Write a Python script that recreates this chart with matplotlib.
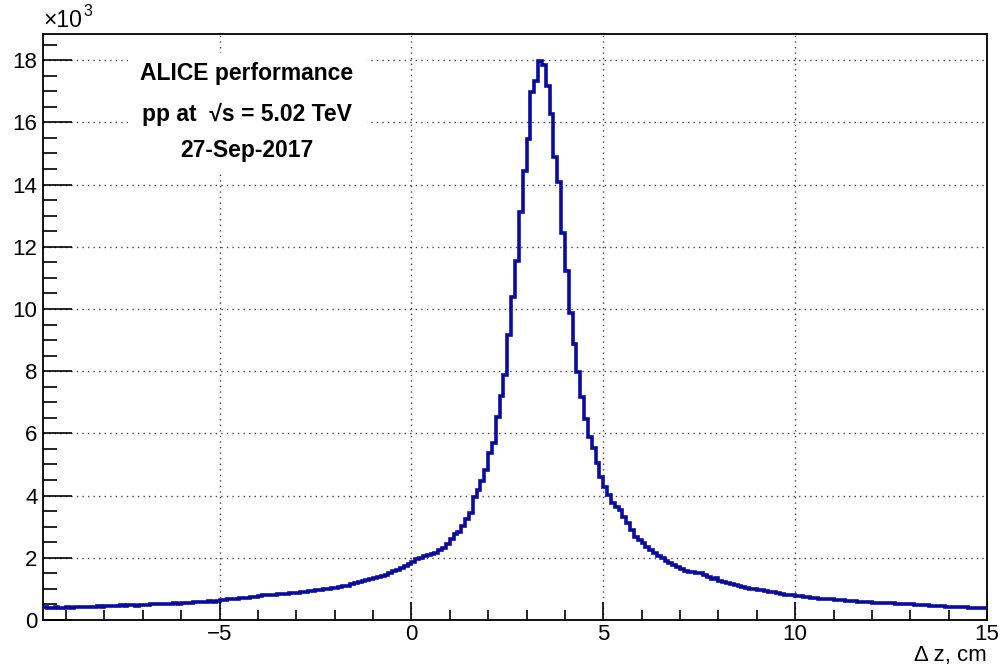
import numpy as np
import matplotlib
matplotlib.use("Agg")
import matplotlib.pyplot as plt
from matplotlib.patches import Rectangle

# Histogram: bins of 0.1 cm from -9.6 to 15.0, counts in units of 10^3
x_min, x_max, bin_w = -9.6, 15.0, 0.1
counts_k = [
    # -9.6 .. -9.0
    0.41, 0.40, 0.39, 0.41, 0.40, 0.40,
    # -9 .. -8
    0.41, 0.40, 0.42, 0.41, 0.43, 0.42, 0.41, 0.43, 0.44, 0.43,
    # -8 .. -7
    0.44, 0.45, 0.44, 0.46, 0.47, 0.46, 0.48, 0.47, 0.46, 0.48,
    # -7 .. -6
    0.49, 0.48, 0.50, 0.51, 0.50, 0.52, 0.53, 0.52, 0.54, 0.53,
    # -6 .. -5
    0.55, 0.56, 0.55, 0.57, 0.58, 0.57, 0.59, 0.60, 0.59, 0.61,
    # -5 .. -4
    0.64, 0.65, 0.67, 0.66, 0.69, 0.70, 0.71, 0.72, 0.74, 0.75,
    # -4 .. -3
    0.77, 0.79, 0.80, 0.81, 0.82, 0.83, 0.84, 0.85, 0.86, 0.87,
    # -3 .. -2
    0.88, 0.89, 0.91, 0.92, 0.94, 0.96, 0.98, 0.99, 1.01, 1.02,
    # -2 .. -1
    1.04, 1.06, 1.09, 1.11, 1.15, 1.18, 1.21, 1.25, 1.28, 1.32,
    # -1 .. 0
    1.35, 1.38, 1.42, 1.46, 1.51, 1.57, 1.62, 1.68, 1.74, 1.81,
    # 0 .. 1
    1.88, 1.95, 2.00, 2.05, 2.08, 2.12, 2.17, 2.25, 2.32, 2.46,
    # 1 .. 2
    2.59, 2.75, 2.84, 3.02, 3.24, 3.43, 3.94, 4.18, 4.47, 4.82,
    # 2 .. 3
    5.36, 5.68, 6.54, 7.21, 7.88, 9.16, 10.37, 11.55, 13.13, 14.43,
    # 3 .. 4
    15.48, 16.98, 17.34, 17.97, 17.84, 17.17, 16.27, 14.89, 14.07, 12.43,
    # 4 .. 5
    11.23, 9.88, 8.87, 7.96, 7.18, 6.46, 5.90, 5.52, 5.04, 4.61,
    # 5 .. 6
    4.28, 4.02, 3.75, 3.62, 3.54, 3.32, 3.13, 2.89, 2.68, 2.57,
    # 6 .. 7
    2.48, 2.36, 2.25, 2.14, 2.06, 1.98, 1.91, 1.83, 1.77, 1.70,
    # 7 .. 8
    1.64, 1.59, 1.56, 1.53, 1.51, 1.50, 1.44, 1.38, 1.31, 1.35,
    # 8 .. 9
    1.27, 1.22, 1.19, 1.15, 1.12, 1.08, 1.06, 1.03, 1.01, 0.99,
    # 9 .. 10
    0.97, 0.95, 0.93, 0.91, 0.90, 0.87, 0.84, 0.81, 0.80, 0.79,
    # 10 .. 11
    0.77, 0.76, 0.74, 0.73, 0.72, 0.71, 0.69, 0.68, 0.67, 0.66,
    # 11 .. 12
    0.65, 0.64, 0.63, 0.62, 0.61, 0.60, 0.59, 0.58, 0.57, 0.57,
    # 12 .. 13
    0.56, 0.56, 0.55, 0.55, 0.54, 0.54, 0.53, 0.53, 0.52, 0.51,
    # 13 .. 14
    0.50, 0.49, 0.48, 0.48, 0.47, 0.46, 0.46, 0.45, 0.44, 0.43,
    # 14 .. 15
    0.43, 0.42, 0.42, 0.41, 0.41, 0.40, 0.40, 0.40, 0.39, 0.40,
]
x_ticks = [-5, 0, 5, 10, 15]
x_ticklabels = ["\u22125", "0", "5", "10", "15"]
y_ticks = [0, 2, 4, 6, 8, 10, 12, 14, 16, 18]
y_ticklabels = [str(v) for v in y_ticks]
info_lines = ["ALICE performance", "pp at  \u221as = 5.02 TeV", "27-Sep-2017"]
x_title = "\u0394 z, cm"
y_exp_base = "\u00d710"
y_exp_pow = "3"

plt.rcParams['font.family'] = ['Liberation Sans', 'DejaVu Sans']

fig = plt.figure(figsize=(10.0, 6.69), dpi=100)
ax = fig.add_axes([0.043, 0.0732, 0.944, 0.876])

n_bins = int(round((x_max - x_min) / bin_w))
edges = np.linspace(x_min, x_max, n_bins + 1)
ax.stairs(np.array(counts_k), edges, baseline=None, color="#0a0a9c",
          linewidth=2.6, zorder=4)

ax.set_xlim(x_min, x_max)
ax.set_ylim(0, 18.84)

ax.set_xticks(x_ticks)
ax.set_xticklabels(x_ticklabels)
ax.set_xticks(np.arange(-9, 15.01, 1.0), minor=True)
ax.set_yticks(y_ticks)
ax.set_yticklabels(y_ticklabels)
ax.set_yticks(np.arange(0, 18.84, 0.5), minor=True)

ax.tick_params(axis='x', which='major', direction='in', length=13, width=1.2,
               labelsize=16, pad=3)
ax.tick_params(axis='x', which='minor', direction='in', length=7, width=1.2)
ax.tick_params(axis='y', which='major', direction='in', length=21, width=1.2,
               labelsize=16, pad=4)
ax.tick_params(axis='y', which='minor', direction='in', length=10, width=1.2)

for s in ax.spines.values():
    s.set_linewidth(1.3)

ax.grid(True, which='major', linestyle=(0, (1, 3)), linewidth=1.0,
        color="#444444", zorder=1)
ax.set_axisbelow(True)

# white box behind the info text
ax.add_patch(Rectangle((0.090, 0.765), 0.253, 0.203, transform=ax.transAxes,
                       facecolor="white", edgecolor="none", zorder=2))
ys = [0.932, 0.863, 0.802]
for t, yy in zip(info_lines, ys):
    ax.text(0.2156, yy, t, transform=ax.transAxes, ha='center', va='center',
            fontsize=16.5, fontweight='bold', zorder=3)

fig.text(0.043, 0.952, y_exp_base, ha='left', va='bottom', fontsize=16.5)
fig.text(0.0835, 0.972, y_exp_pow, ha='left', va='bottom', fontsize=11.5)
fig.text(0.987, 0.005, x_title, ha='right', va='bottom', fontsize=16)

fig.savefig("out.png", dpi=100, facecolor="white")
